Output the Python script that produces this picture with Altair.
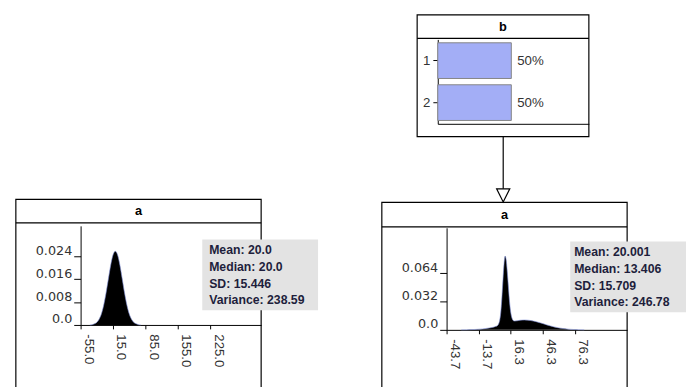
import altair as alt
import pandas as pd

FONT = "Liberation Sans"
YFONT = "DejaVu Sans"

# ---------------- data ----------------
node_names = ["a", "b", "a"]

# left node "a" (no parent): density values
a1_x = [-35, -30, -25, -20, -15, -10, -5, 0, 5, 10, 15, 20, 25, 30, 35, 40, 45, 50, 55, 60, 65, 70, 75]
a1_p = [0.0, 0.0001, 0.0004, 0.0009, 0.0020, 0.0039, 0.0070, 0.0112, 0.0161, 0.0209, 0.0245, 0.0258,
        0.0245, 0.0209, 0.0161, 0.0112, 0.0070, 0.0039, 0.0020, 0.0009, 0.0004, 0.0001, 0.0]
a1_xticks = [-55.0, 15.0, 85.0, 155.0, 225.0]
a1_yticks = [0.0, 0.008, 0.016, 0.024]
a1_stats = ["Mean: 20.0", "Median: 20.0", "SD: 15.446", "Variance: 238.59"]

# node "b"
b_states = ["1", "2"]
b_probs = [0.5, 0.5]

# right node "a" (child of b): density values
a2_x = [-30, -25, -20, -15, -10, -5, 0, 2, 4, 5, 6, 7, 8, 9, 10, 11, 12, 13, 14, 15, 16, 17, 18, 19,
        20, 25, 29, 35, 40, 45, 50, 55, 60, 65, 70, 75, 80, 85]
a2_p = [0.0, 0.0001, 0.0003, 0.0006, 0.0011, 0.0019, 0.0030, 0.0038, 0.0050, 0.0068, 0.011, 0.020,
        0.036, 0.056, 0.074, 0.083, 0.079, 0.066, 0.050, 0.034, 0.022, 0.015, 0.0115, 0.0102,
        0.0099, 0.0108, 0.0111, 0.0105, 0.0092, 0.0075, 0.0056, 0.0039, 0.0025, 0.0015, 0.0008,
        0.0004, 0.0002, 0.0]
a2_xticks = [-43.7, -13.7, 16.3, 46.3, 76.3]
a2_yticks = [0.0, 0.032, 0.064]
a2_stats = ["Mean: 20.001", "Median: 13.406", "SD: 15.709", "Variance: 246.78"]

LABEL_SIZE = 13.5
LABEL_COLOR = "#333333"


def frame_layers(name, x0, x1, y0, y1, yhead, xmid, ytitle):
    one = pd.DataFrame({"name": [name]})
    box = alt.Chart(one).mark_rect(fillOpacity=0, stroke="black", strokeWidth=1.2).encode(
        x=alt.value(x0), x2=alt.value(x1), y=alt.value(y0), y2=alt.value(y1))
    head = alt.Chart(one).mark_rule(color="black", strokeWidth=1.2).encode(
        x=alt.value(x0), x2=alt.value(x1), y=alt.value(yhead))
    title = alt.Chart(one).mark_text(font=FONT, fontWeight="bold", fontSize=13, color="black",
                                     baseline="middle").encode(
        x=alt.value(xmid), y=alt.value(ytitle), text="name:N")
    return [box, head, title]


def stats_layers(lines, bx0, bx1, by0, by1, tx, ty):
    df = pd.DataFrame({"txt": ["\n".join(lines)]})
    box = alt.Chart(df).mark_rect(fill="#e3e3e3").encode(
        x=alt.value(bx0), x2=alt.value(bx1), y=alt.value(by0), y2=alt.value(by1))
    txt = alt.Chart(df).mark_text(font=FONT, fontWeight="bold", fontSize=12.5, color="#1e1e3c",
                                  align="left", baseline="top", lineBreak="\n", lineHeight=17).encode(
        x=alt.value(tx), y=alt.value(ty), text="txt:N")
    return [box, txt]


def hist_layers(xs, ps, dom_x, xticks, dom_y, yticks):
    df = pd.DataFrame({"x": xs, "p": ps})
    x = alt.X("x:Q", scale=alt.Scale(domain=dom_x, nice=False, zero=False),
              axis=alt.Axis(values=xticks, tickCount=20, title=None, grid=False,
                            labelExpr="replace(format(datum.value, '.1f'), '\u2212', '-')",
                            labelAngle=90, labelAlign="left", labelBaseline="bottom",
                            labelOffset=1, labelPadding=5, tickSize=4, labelFlush=False,
                            labelOverlap=False, labelFont=FONT, labelFontSize=LABEL_SIZE,
                            labelColor=LABEL_COLOR, domainColor="black", tickColor="black"))
    y = alt.Y("p:Q", scale=alt.Scale(domain=dom_y, nice=False, zero=True),
              axis=alt.Axis(values=yticks, tickCount=20, title=None, grid=False,
                            labelExpr="datum.value == 0 ? '0.0' : format(datum.value, '.3f')",
                            labelBaseline="alphabetic", labelOffset=-2, labelPadding=2, tickSize=7,
                            labelFlush=False, labelOverlap=False, labelFont=YFONT, labelFontSize=13,
                            labelColor=LABEL_COLOR, domainColor="black", tickColor="black"))
    area = alt.Chart(df).mark_area(color="black", interpolate="monotone").encode(x=x, y=y)
    edge = alt.Chart(df).mark_line(color="#7f8ed8", strokeWidth=0.6, interpolate="monotone").encode(
        x="x:Q", y="p:Q")
    return [area, edge]


def spacer(w, h):
    return alt.Chart(pd.DataFrame({"v": [0]})).mark_point(opacity=0).encode(
        x=alt.value(0), y=alt.value(0)).properties(width=w, height=h)


# ---------- left node a ----------
panel_L = alt.layer(
    *frame_layers(node_names[0], -66, 184, -27, 200, -3, 59, -15),
    *hist_layers(a1_x, a1_p, [-55, 335.3], a1_xticks, [0, 0.0347], a1_yticks),
    *stats_layers(a1_stats, 124, 242, 14, 86, 131, 19),
).properties(width=184, height=101)

# ---------- node b ----------
b_df = pd.DataFrame({"state": b_states, "p": b_probs})
b_y = alt.Y("state:N", scale=alt.Scale(paddingInner=0.15, paddingOuter=0.08),
            axis=alt.Axis(title=None, labelAngle=0, tickSize=5, labelPadding=3, labelFont=FONT,
                          labelFontSize=LABEL_SIZE, labelColor=LABEL_COLOR,
                          domainColor="black", tickColor="black"))
b_x = alt.X("p:Q", scale=alt.Scale(domain=[0, 1.027], nice=False),
            axis=alt.Axis(title=None, labels=False, ticks=False, grid=False, domainColor="black"))
bars = alt.Chart(b_df).mark_bar(color="#a3aef6", stroke="#858585", strokeWidth=1).encode(x=b_x, y=b_y)
pct = alt.Chart(b_df).mark_text(align="left", baseline="middle", dx=6, font=FONT,
                                fontSize=LABEL_SIZE, color=LABEL_COLOR).encode(
    x="p:Q", y="state:N", text=alt.Text("p:Q", format=".0%"))
one_b = pd.DataFrame({"name": [node_names[1]]})
arrow_line = alt.Chart(one_b).mark_rule(color="black", strokeWidth=1.2).encode(
    x=alt.value(66.7), y=alt.value(99), y2=alt.value(153))
arrow_head = alt.Chart(one_b).mark_point(shape="M-1,-1L1,-1L0,1Z", size=180, filled=True,
                                         fill="white", stroke="black", strokeWidth=1.2,
                                         opacity=1).encode(x=alt.value(66.7), y=alt.value(159))
panel_B = alt.layer(
    *frame_layers(node_names[1], -21, 154, -25, 99, -1, 66.5, -13),
    bars, pct, arrow_line, arrow_head,
).properties(width=154, height=86)

# ---------- right node a ----------
panel_A2 = alt.layer(
    *frame_layers(node_names[2], -66, 184, -26, 200, -1, 59, -13.5),
    *hist_layers(a2_x, a2_p, [-43.7, 125.1], a2_xticks, [0, 0.1148], a2_yticks),
    *stats_layers(a2_stats, 126, 244, 14, 86, 130, 19),
).properties(width=184, height=104)

left_col = alt.vconcat(spacer(184, 190), panel_L, spacing=0, bounds="flush")
right_a = alt.hconcat(spacer(9, 104), panel_A2, spacing=0, bounds="flush")
right_col = alt.vconcat(panel_B, right_a, spacing=106, bounds="flush")

chart = alt.hconcat(left_col, right_col, spacing=364, bounds="flush").properties(
    padding={"left": 7, "top": 2, "right": 0, "bottom": 0}
).configure(font=FONT).configure_view(stroke=None, strokeWidth=0)

chart.save("out.html", embed_options={"renderer": "svg", "actions": False})
